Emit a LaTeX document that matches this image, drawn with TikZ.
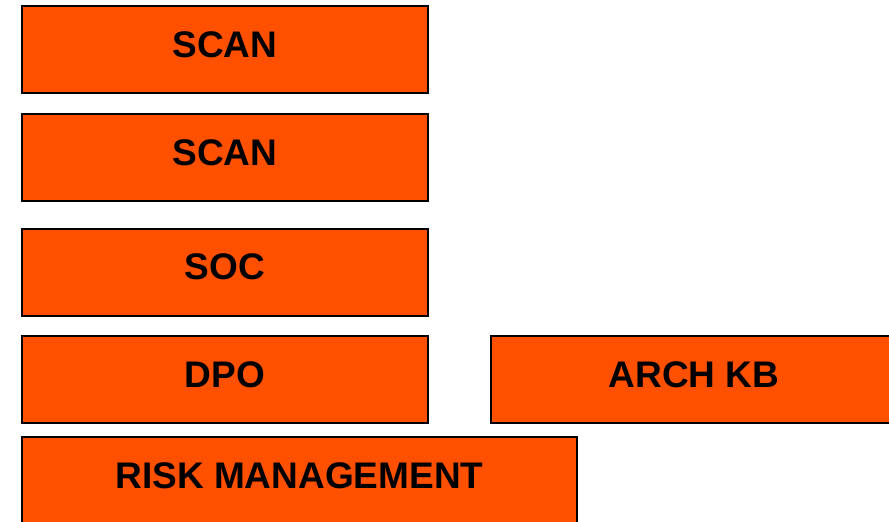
\documentclass[tikz,border=0pt]{standalone}
\usepackage{fontspec}
\setmainfont{Liberation Sans}
\usetikzlibrary{positioning}

\definecolor{boxorange}{RGB}{255,80,0}

\begin{document}
\begin{tikzpicture}[x=1pt,y=-1pt]

\def\boxwidth{406pt}
\def\boxheight{87pt}

\tikzstyle{unit}=[rectangle,draw=black,line width=2pt,fill=boxorange,minimum width=\boxwidth,minimum height=\boxheight,inner sep=0pt,text depth=10.5pt,font=\fontsize{37}{44}\selectfont\bfseries]
\tikzstyle{wide}=[unit, minimum width=555pt]

\useasboundingbox (0,0) rectangle (889,522);
\clip (0,0) rectangle (889,522);

%left column
\node[unit] (scan1) at (225,49.5) {SCAN};
\node[unit] (scan2) at (225,157.5) {SCAN};
\node[unit] (soc) at (225,272) {SOC};
\node[unit] (dpo) at (225,379.5) {DPO};

%right
\node[unit] (arch) at (694,379.5) {ARCH KB};

%bottom
\node[wide] (risk) at (299.5,480.5) {RISK MANAGEMENT};

\end{tikzpicture}
\end{document}
